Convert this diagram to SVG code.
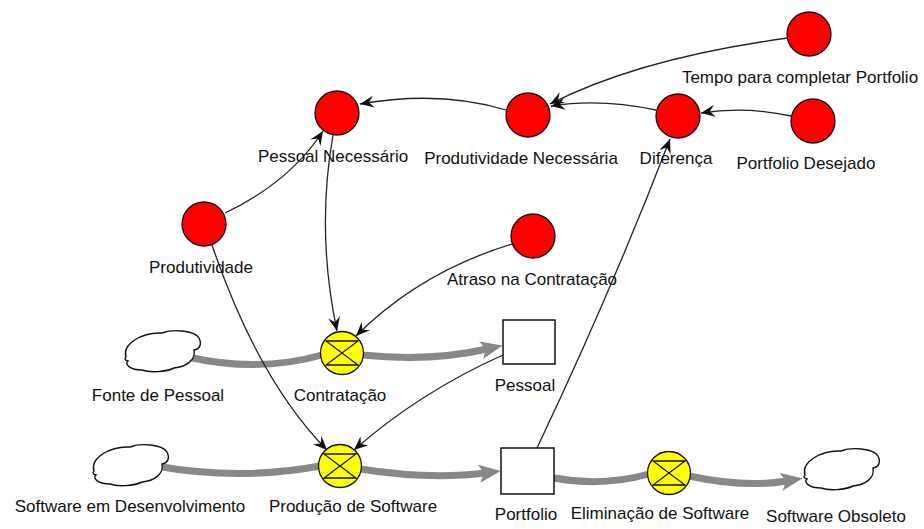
<svg xmlns="http://www.w3.org/2000/svg" width="924" height="529" viewBox="0 0 924 529">
  <style>
    text { font-family: "Liberation Sans", Arial, sans-serif; font-size: 17px; fill: #111; text-anchor: middle; }
    .aux { fill: #ff0000; stroke: #111; stroke-width: 1.3; }
    .valve { fill: #ffff00; stroke: #111; stroke-width: 1.3; }
    .valve-mark { fill: none; stroke: #111; stroke-width: 1.3; }
    .stock { fill: #fff; stroke: #111; stroke-width: 1.5; }
    .cloud { fill: #fff; stroke: #111; stroke-width: 1.4; }
    .pipe { fill: none; stroke: #888888; stroke-width: 7; stroke-linecap: butt; }
    .link { fill: none; stroke: #222; stroke-width: 1.3; marker-end: url(#arrow); }
  </style>
  <defs>
    <marker id="arrow" markerUnits="userSpaceOnUse" markerWidth="16" markerHeight="14" refX="14" refY="6" orient="auto" overflow="visible">
      <path d="M0,0 L14,6 L0,12 L5,6 Z" fill="#111"/>
    </marker>
    <marker id="pipeArrow" markerUnits="userSpaceOnUse" markerWidth="26" markerHeight="22" refX="6" refY="9" orient="auto" overflow="visible">
      <path d="M0,0 L22,9 L0,18 L5,9 Z" fill="#888888"/>
    </marker>
    <path id="cloudShape" d="M4,27 C0,14 20,2 40,3 C50,-1 72,0 77,8 C80,14 78,19 72,20 C74,30 64,37 52,38 C44,42 28,43 20,40 C8,40 2,34 6,31 C3,30 2,29 4,27 Z"/>
    <g id="valveShape">
      <circle r="21.5" class="valve"/>
      <path class="valve-mark" d="M-16,-12 H16 L-16,12 H16 Z"/>
    </g>
  </defs>

  <!-- material flow pipes (drawn under the clouds and valves) -->
  <g id="pipes">
    <path class="pipe" d="M188,357 Q258,373 322,355"/>
    <path class="pipe" d="M362,355 Q430,362 487,349" marker-end="url(#pipeArrow)"/>
    <path class="pipe" d="M156,466 Q240,481 320,466"/>
    <path class="pipe" d="M360,469 Q430,480 485,473" marker-end="url(#pipeArrow)"/>
    <path class="pipe" d="M554,478 Q602,487 649,474"/>
    <path class="pipe" d="M689,476 Q745,488 787,481" marker-end="url(#pipeArrow)"/>
  </g>

  <!-- information links -->
  <g id="connectors">
    <path class="link" d="M788,38 Q640,58 550,104"/>
    <path class="link" d="M656,110 Q600,98 551,106"/>
    <path class="link" d="M506,110 Q440,90 360,104"/>
    <path class="link" d="M791,116 Q745,106 701,113"/>
    <path class="link" d="M225,213 Q290,182 323,131"/>
    <path class="link" d="M333,135 Q316,232 337,331"/>
    <path class="link" d="M512,244 Q420,272 356,336"/>
    <path class="link" d="M212,245 Q258,380 327,450"/>
    <path class="link" d="M503,355 Q420,392 354,450"/>
    <path class="link" d="M537,448 Q612,290 670,139"/>
  </g>

  <!-- auxiliaries -->
  <g id="tempo-portfolio">
    <circle class="aux" cx="809" cy="34" r="22"/>
    <text x="800" y="83">Tempo para completar Portfolio</text>
  </g>
  <g id="pessoal-necessario">
    <circle class="aux" cx="337" cy="113" r="22"/>
    <text x="333" y="162">Pessoal Necessário</text>
  </g>
  <g id="produtividade-necessaria">
    <circle class="aux" cx="528" cy="115" r="22"/>
    <text x="521" y="164">Produtividade Necessária</text>
  </g>
  <g id="diferenca">
    <circle class="aux" cx="678" cy="116" r="22"/>
    <text x="676" y="164">Diferença</text>
  </g>
  <g id="portfolio-desejado">
    <circle class="aux" cx="813" cy="121" r="22"/>
    <text x="806" y="169">Portfolio Desejado</text>
  </g>
  <g id="produtividade">
    <circle class="aux" cx="204" cy="224" r="22"/>
    <text x="201" y="273">Produtividade</text>
  </g>
  <g id="atraso-contratacao">
    <circle class="aux" cx="533" cy="236" r="22"/>
    <text x="532" y="285">Atraso na Contratação</text>
  </g>

  <!-- sources and sinks -->
  <g id="fonte-pessoal">
    <use href="#cloudShape" class="cloud" transform="translate(122,330)"/>
    <text x="158" y="401">Fonte de Pessoal</text>
  </g>
  <g id="software-desenvolvimento">
    <use href="#cloudShape" class="cloud" transform="translate(90,444)"/>
    <text x="130" y="512">Software em Desenvolvimento</text>
  </g>
  <g id="software-obsoleto">
    <use href="#cloudShape" class="cloud" transform="translate(801,448)"/>
    <text x="836" y="522">Software Obsoleto</text>
  </g>

  <!-- flows -->
  <g id="contratacao">
    <use href="#valveShape" transform="translate(342,353)"/>
    <text x="340" y="401">Contratação</text>
  </g>
  <g id="producao-software">
    <use href="#valveShape" transform="translate(340,466)"/>
    <text x="353" y="512">Produção de Software</text>
  </g>
  <g id="eliminacao-software">
    <use href="#valveShape" transform="translate(669,473)"/>
    <text x="660" y="519">Eliminação de Software</text>
  </g>

  <!-- stocks -->
  <g id="pessoal">
    <rect class="stock" x="503" y="320" width="52" height="44"/>
    <text x="525" y="391">Pessoal</text>
  </g>
  <g id="portfolio">
    <rect class="stock" x="501" y="448" width="53" height="46"/>
    <text x="526" y="520">Portfolio</text>
  </g>
</svg>
